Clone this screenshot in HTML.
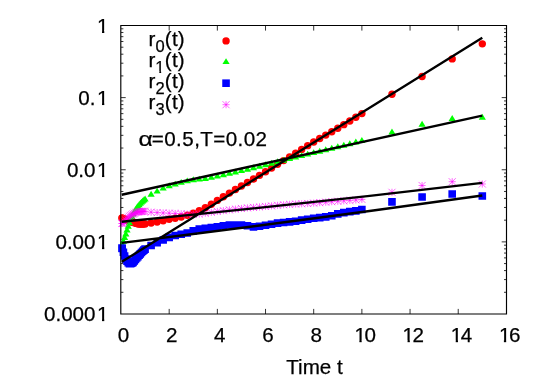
<!DOCTYPE html>
<html><head><meta charset="utf-8"><title>plot</title>
<style>html,body{margin:0;padding:0;background:#fff;overflow:hidden}svg{display:block;will-change:transform}</style>
</head><body>
<svg width="545" height="382" viewBox="0 0 545 382">
<rect x="0" y="0" width="545" height="382" fill="#fff"/>
<path d="M121 75.91h2.4M506.4 75.91h-2.4M121 63.21h2.4M506.4 63.21h-2.4M121 54.2h2.4M506.4 54.2h-2.4M121 47.21h2.4M506.4 47.21h-2.4M121 41.5h2.4M506.4 41.5h-2.4M121 36.67h2.4M506.4 36.67h-2.4M121 32.49h2.4M506.4 32.49h-2.4M121 28.8h2.4M506.4 28.8h-2.4M121 97.62h4.7M506.4 97.62h-4.7M121 148.04h2.4M506.4 148.04h-2.4M121 135.34h2.4M506.4 135.34h-2.4M121 126.33h2.4M506.4 126.33h-2.4M121 119.34h2.4M506.4 119.34h-2.4M121 113.63h2.4M506.4 113.63h-2.4M121 108.8h2.4M506.4 108.8h-2.4M121 104.61h2.4M506.4 104.61h-2.4M121 100.93h2.4M506.4 100.93h-2.4M121 169.75h4.7M506.4 169.75h-4.7M121 220.16h2.4M506.4 220.16h-2.4M121 207.46h2.4M506.4 207.46h-2.4M121 198.45h2.4M506.4 198.45h-2.4M121 191.46h2.4M506.4 191.46h-2.4M121 185.75h2.4M506.4 185.75h-2.4M121 180.92h2.4M506.4 180.92h-2.4M121 176.74h2.4M506.4 176.74h-2.4M121 173.05h2.4M506.4 173.05h-2.4M121 241.88h4.7M506.4 241.88h-4.7M121 292.29h2.4M506.4 292.29h-2.4M121 279.59h2.4M506.4 279.59h-2.4M121 270.58h2.4M506.4 270.58h-2.4M121 263.59h2.4M506.4 263.59h-2.4M121 257.88h2.4M506.4 257.88h-2.4M121 253.05h2.4M506.4 253.05h-2.4M121 248.86h2.4M506.4 248.86h-2.4M121 245.18h2.4M506.4 245.18h-2.4M169.18 314v-5.1M169.18 25.5v5.1M217.35 314v-5.1M217.35 25.5v5.1M265.52 314v-5.1M265.52 25.5v5.1M313.7 314v-5.1M313.7 25.5v5.1M361.88 314v-5.1M361.88 25.5v5.1M410.05 314v-5.1M410.05 25.5v5.1M458.22 314v-5.1M458.22 25.5v5.1" fill="none" stroke="#000" stroke-width="0.8"/>
<g fill="#f00"><circle cx="121.96" cy="217.97" r="3.7"/><circle cx="122.2" cy="218.08" r="3.7"/><circle cx="123.41" cy="218.64" r="3.7"/><circle cx="124.61" cy="219.18" r="3.7"/><circle cx="125.82" cy="219.7" r="3.7"/><circle cx="127.02" cy="220.2" r="3.7"/><circle cx="128.23" cy="220.69" r="3.7"/><circle cx="129.43" cy="221.16" r="3.7"/><circle cx="130.63" cy="221.62" r="3.7"/><circle cx="131.84" cy="222.03" r="3.7"/><circle cx="133.04" cy="222.4" r="3.7"/><circle cx="134.25" cy="222.75" r="3.7"/><circle cx="135.45" cy="223.11" r="3.7"/><circle cx="136.66" cy="223.45" r="3.7"/><circle cx="137.86" cy="223.73" r="3.7"/><circle cx="139.07" cy="223.93" r="3.7"/><circle cx="140.27" cy="224" r="3.7"/><circle cx="141.47" cy="223.99" r="3.7"/><circle cx="142.68" cy="223.97" r="3.7"/><circle cx="143.88" cy="223.94" r="3.7"/><circle cx="145.09" cy="223.9" r="3.7"/><circle cx="151.11" cy="223" r="3.7"/><circle cx="157.13" cy="222" r="3.7"/><circle cx="163.15" cy="220.8" r="3.7"/><circle cx="169.18" cy="219.3" r="3.7"/><circle cx="175.2" cy="218.18" r="3.7"/><circle cx="181.22" cy="217" r="3.7"/><circle cx="187.24" cy="215.3" r="3.7"/><circle cx="193.26" cy="213.2" r="3.7"/><circle cx="199.28" cy="210.67" r="3.7"/><circle cx="205.31" cy="207.7" r="3.7"/><circle cx="211.33" cy="204.18" r="3.7"/><circle cx="217.35" cy="200.4" r="3.7"/><circle cx="223.37" cy="196.74" r="3.7"/><circle cx="229.39" cy="193.1" r="3.7"/><circle cx="235.42" cy="189.55" r="3.7"/><circle cx="241.44" cy="186.03" r="3.7"/><circle cx="247.46" cy="182.5" r="3.7"/><circle cx="253.48" cy="178.93" r="3.7"/><circle cx="259.5" cy="175.33" r="3.7"/><circle cx="265.52" cy="171.7" r="3.7"/><circle cx="271.55" cy="168.03" r="3.7"/><circle cx="277.57" cy="164.33" r="3.7"/><circle cx="283.59" cy="160.62" r="3.7"/><circle cx="289.61" cy="156.9" r="3.7"/><circle cx="295.63" cy="153.16" r="3.7"/><circle cx="301.66" cy="149.38" r="3.7"/><circle cx="307.68" cy="145.65" r="3.7"/><circle cx="313.7" cy="142" r="3.7"/><circle cx="319.72" cy="138.49" r="3.7"/><circle cx="325.74" cy="135.08" r="3.7"/><circle cx="331.77" cy="131.68" r="3.7"/><circle cx="337.79" cy="128.2" r="3.7"/><circle cx="343.81" cy="124.63" r="3.7"/><circle cx="349.83" cy="121" r="3.7"/><circle cx="355.85" cy="117.32" r="3.7"/><circle cx="361.88" cy="113.6" r="3.7"/><circle cx="391.98" cy="94.3" r="3.7"/><circle cx="422.09" cy="76.5" r="3.7"/><circle cx="452.2" cy="58.9" r="3.7"/><circle cx="482.31" cy="43.85" r="3.7"/></g>
<path fill="#0f0" d="M121.96 241.6l3.6 5.95h-7.2zM122.2 241.05l3.6 5.95h-7.2zM123.41 237.85l3.6 5.95h-7.2zM124.61 234.05l3.6 5.95h-7.2zM125.82 230.45l3.6 5.95h-7.2zM127.02 226.45l3.6 5.95h-7.2zM128.23 222.75l3.6 5.95h-7.2zM129.43 219.27l3.6 5.95h-7.2zM130.63 216.05l3.6 5.95h-7.2zM131.84 213.16l3.6 5.95h-7.2zM133.04 210.55l3.6 5.95h-7.2zM134.25 208.15l3.6 5.95h-7.2zM135.45 206.05l3.6 5.95h-7.2zM136.66 204.29l3.6 5.95h-7.2zM137.86 202.72l3.6 5.95h-7.2zM139.07 201.26l3.6 5.95h-7.2zM140.27 199.89l3.6 5.95h-7.2zM141.47 198.65l3.6 5.95h-7.2zM142.68 197.55l3.6 5.95h-7.2zM143.88 196.54l3.6 5.95h-7.2zM145.09 195.55l3.6 5.95h-7.2zM151.11 190.75l3.6 5.95h-7.2zM157.13 187.65l3.6 5.95h-7.2zM163.15 184.65l3.6 5.95h-7.2zM169.18 182.25l3.6 5.95h-7.2zM175.2 180.65l3.6 5.95h-7.2zM181.22 178.9l3.6 5.95h-7.2zM187.24 177.4l3.6 5.95h-7.2zM193.26 176.35l3.6 5.95h-7.2zM199.28 175.66l3.6 5.95h-7.2zM205.31 174.96l3.6 5.95h-7.2zM211.33 173.92l3.6 5.95h-7.2zM217.35 172.61l3.6 5.95h-7.2zM223.37 171.2l3.6 5.95h-7.2zM229.39 169.81l3.6 5.95h-7.2zM235.42 168.48l3.6 5.95h-7.2zM241.44 167.14l3.6 5.95h-7.2zM247.46 165.77l3.6 5.95h-7.2zM253.48 164.36l3.6 5.95h-7.2zM259.5 162.87l3.6 5.95h-7.2zM265.52 161.32l3.6 5.95h-7.2zM271.55 159.75l3.6 5.95h-7.2zM277.57 158.2l3.6 5.95h-7.2zM283.59 156.68l3.6 5.95h-7.2zM289.61 155.16l3.6 5.95h-7.2zM295.63 153.65l3.6 5.95h-7.2zM301.66 152.15l3.6 5.95h-7.2zM307.68 150.65l3.6 5.95h-7.2zM313.7 149.16l3.6 5.95h-7.2zM319.72 147.69l3.6 5.95h-7.2zM325.74 146.23l3.6 5.95h-7.2zM331.77 144.75l3.6 5.95h-7.2zM337.79 143.24l3.6 5.95h-7.2zM343.81 141.72l3.6 5.95h-7.2zM349.83 140.19l3.6 5.95h-7.2zM355.85 138.62l3.6 5.95h-7.2zM361.88 137.02l3.6 5.95h-7.2zM391.98 128.45l3.6 5.95h-7.2zM422.09 120.85l3.6 5.95h-7.2zM452.2 114.95l3.6 5.95h-7.2zM482.31 113.75l3.6 5.95h-7.2z"/>
<path fill="#00f" d="M118.16 244.3h7.6v7.6h-7.6zM118.4 244.65h7.6v7.6h-7.6zM119.61 248.4h7.6v7.6h-7.6zM120.81 252.13h7.6v7.6h-7.6zM122.02 255.2h7.6v7.6h-7.6zM123.22 257.5h7.6v7.6h-7.6zM124.43 259h7.6v7.6h-7.6zM125.63 259.81h7.6v7.6h-7.6zM126.83 259.93h7.6v7.6h-7.6zM128.04 259.4h7.6v7.6h-7.6zM129.24 258.54h7.6v7.6h-7.6zM130.45 257.27h7.6v7.6h-7.6zM131.65 255.76h7.6v7.6h-7.6zM132.86 254.21h7.6v7.6h-7.6zM134.06 252.8h7.6v7.6h-7.6zM135.27 251.48h7.6v7.6h-7.6zM136.47 250.12h7.6v7.6h-7.6zM137.67 248.77h7.6v7.6h-7.6zM138.88 247.48h7.6v7.6h-7.6zM140.08 246.31h7.6v7.6h-7.6zM141.29 245.3h7.6v7.6h-7.6zM147.31 241.7h7.6v7.6h-7.6zM153.33 238.9h7.6v7.6h-7.6zM159.35 236.2h7.6v7.6h-7.6zM165.38 233.6h7.6v7.6h-7.6zM171.4 231.7h7.6v7.6h-7.6zM177.42 230.4h7.6v7.6h-7.6zM183.44 229.25h7.6v7.6h-7.6zM189.46 227.05h7.6v7.6h-7.6zM195.48 225.2h7.6v7.6h-7.6zM201.51 224.5h7.6v7.6h-7.6zM207.53 223.75h7.6v7.6h-7.6zM213.55 223h7.6v7.6h-7.6zM219.57 221.95h7.6v7.6h-7.6zM225.59 221.2h7.6v7.6h-7.6zM231.62 221.2h7.6v7.6h-7.6zM237.64 221.2h7.6v7.6h-7.6zM243.66 221.95h7.6v7.6h-7.6zM249.68 223.05h7.6v7.6h-7.6zM255.7 222.5h7.6v7.6h-7.6zM261.72 221.4h7.6v7.6h-7.6zM267.75 220.4h7.6v7.6h-7.6zM273.77 219.35h7.6v7.6h-7.6zM279.79 218.7h7.6v7.6h-7.6zM285.81 218.1h7.6v7.6h-7.6zM291.83 217.5h7.6v7.6h-7.6zM297.86 216.35h7.6v7.6h-7.6zM303.88 215.4h7.6v7.6h-7.6zM309.9 214.5h7.6v7.6h-7.6zM315.92 213.8h7.6v7.6h-7.6zM321.94 213.05h7.6v7.6h-7.6zM327.97 211.9h7.6v7.6h-7.6zM333.99 210.05h7.6v7.6h-7.6zM340.01 208.8h7.6v7.6h-7.6zM346.03 207.8h7.6v7.6h-7.6zM352.05 207.05h7.6v7.6h-7.6zM358.07 205.7h7.6v7.6h-7.6zM388.18 198.1h7.6v7.6h-7.6zM418.29 193.2h7.6v7.6h-7.6zM448.4 190.2h7.6v7.6h-7.6zM478.51 192.2h7.6v7.6h-7.6z"/>
<path fill="none" stroke="#f0f" stroke-width="0.6" d="M118.41 223.46h7.1M121.96 219.91v7.1M118.41 219.91l7.1 7.1M118.41 227.01l7.1 -7.1M118.65 223.5h7.1M122.2 219.95v7.1M118.65 219.95l7.1 7.1M118.65 227.05l7.1 -7.1M119.86 223h7.1M123.41 219.45v7.1M119.86 219.45l7.1 7.1M119.86 226.55l7.1 -7.1M121.06 221.8h7.1M124.61 218.25v7.1M121.06 218.25l7.1 7.1M121.06 225.35l7.1 -7.1M122.27 220.2h7.1M125.82 216.65v7.1M122.27 216.65l7.1 7.1M122.27 223.75l7.1 -7.1M123.47 218.63h7.1M127.02 215.08v7.1M123.47 215.08l7.1 7.1M123.47 222.18l7.1 -7.1M124.68 217.35h7.1M128.23 213.8v7.1M124.68 213.8l7.1 7.1M124.68 220.9l7.1 -7.1M125.88 216.3h7.1M129.43 212.75v7.1M125.88 212.75l7.1 7.1M125.88 219.85l7.1 -7.1M127.08 215.42h7.1M130.63 211.87v7.1M127.08 211.87l7.1 7.1M127.08 218.97l7.1 -7.1M128.29 214.65h7.1M131.84 211.1v7.1M128.29 211.1l7.1 7.1M128.29 218.2l7.1 -7.1M129.49 213.99h7.1M133.04 210.44v7.1M129.49 210.44l7.1 7.1M129.49 217.54l7.1 -7.1M130.7 213.35h7.1M134.25 209.8v7.1M130.7 209.8l7.1 7.1M130.7 216.9l7.1 -7.1M131.9 212.77h7.1M135.45 209.22v7.1M131.9 209.22l7.1 7.1M131.9 216.32l7.1 -7.1M133.11 212.3h7.1M136.66 208.75v7.1M133.11 208.75l7.1 7.1M133.11 215.85l7.1 -7.1M134.31 212h7.1M137.86 208.45v7.1M134.31 208.45l7.1 7.1M134.31 215.55l7.1 -7.1M135.52 211.8h7.1M139.07 208.25v7.1M135.52 208.25l7.1 7.1M135.52 215.35l7.1 -7.1M136.72 211.62h7.1M140.27 208.07v7.1M136.72 208.07l7.1 7.1M136.72 215.17l7.1 -7.1M137.92 211.49h7.1M141.47 207.94v7.1M137.92 207.94l7.1 7.1M137.92 215.04l7.1 -7.1M139.13 211.39h7.1M142.68 207.84v7.1M139.13 207.84l7.1 7.1M139.13 214.94l7.1 -7.1M140.33 211.33h7.1M143.88 207.78v7.1M140.33 207.78l7.1 7.1M140.33 214.88l7.1 -7.1M141.54 211.3h7.1M145.09 207.75v7.1M141.54 207.75l7.1 7.1M141.54 214.85l7.1 -7.1M147.56 212.2h7.1M151.11 208.65v7.1M147.56 208.65l7.1 7.1M147.56 215.75l7.1 -7.1M153.58 212.6h7.1M157.13 209.05v7.1M153.58 209.05l7.1 7.1M153.58 216.15l7.1 -7.1M159.6 212.91h7.1M163.15 209.36v7.1M159.6 209.36l7.1 7.1M159.6 216.46l7.1 -7.1M165.62 213.2h7.1M169.18 209.65v7.1M165.62 209.65l7.1 7.1M165.62 216.75l7.1 -7.1M171.65 213.51h7.1M175.2 209.96v7.1M171.65 209.96l7.1 7.1M171.65 217.06l7.1 -7.1M177.67 213.8h7.1M181.22 210.25v7.1M177.67 210.25l7.1 7.1M177.67 217.35l7.1 -7.1M183.69 214.12h7.1M187.24 210.57v7.1M183.69 210.57l7.1 7.1M183.69 217.67l7.1 -7.1M189.71 214.3h7.1M193.26 210.75v7.1M189.71 210.75l7.1 7.1M189.71 217.85l7.1 -7.1M195.73 213.99h7.1M199.28 210.44v7.1M195.73 210.44l7.1 7.1M195.73 217.54l7.1 -7.1M201.76 213.23h7.1M205.31 209.68v7.1M201.76 209.68l7.1 7.1M201.76 216.78l7.1 -7.1M207.78 212.29h7.1M211.33 208.74v7.1M207.78 208.74l7.1 7.1M207.78 215.84l7.1 -7.1M213.8 211.43h7.1M217.35 207.88v7.1M213.8 207.88l7.1 7.1M213.8 214.98l7.1 -7.1M219.82 210.66h7.1M223.37 207.11v7.1M219.82 207.11l7.1 7.1M219.82 214.21l7.1 -7.1M225.84 209.86h7.1M229.39 206.31v7.1M225.84 206.31l7.1 7.1M225.84 213.41l7.1 -7.1M231.87 209.1h7.1M235.42 205.55v7.1M231.87 205.55l7.1 7.1M231.87 212.65l7.1 -7.1M237.89 208.43h7.1M241.44 204.88v7.1M237.89 204.88l7.1 7.1M237.89 211.98l7.1 -7.1M243.91 207.88h7.1M247.46 204.33v7.1M243.91 204.33l7.1 7.1M243.91 211.43l7.1 -7.1M249.93 207.39h7.1M253.48 203.84v7.1M249.93 203.84l7.1 7.1M249.93 210.94l7.1 -7.1M255.95 206.93h7.1M259.5 203.38v7.1M255.95 203.38l7.1 7.1M255.95 210.48l7.1 -7.1M261.97 206.44h7.1M265.52 202.89v7.1M261.97 202.89l7.1 7.1M261.97 209.99l7.1 -7.1M268 205.9h7.1M271.55 202.35v7.1M268 202.35l7.1 7.1M268 209.45l7.1 -7.1M274.02 205.32h7.1M277.57 201.77v7.1M274.02 201.77l7.1 7.1M274.02 208.87l7.1 -7.1M280.04 204.79h7.1M283.59 201.24v7.1M280.04 201.24l7.1 7.1M280.04 208.34l7.1 -7.1M286.06 204.35h7.1M289.61 200.8v7.1M286.06 200.8l7.1 7.1M286.06 207.9l7.1 -7.1M292.08 204.03h7.1M295.63 200.48v7.1M292.08 200.48l7.1 7.1M292.08 207.58l7.1 -7.1M298.11 203.77h7.1M301.66 200.22v7.1M298.11 200.22l7.1 7.1M298.11 207.32l7.1 -7.1M304.13 203.49h7.1M307.68 199.94v7.1M304.13 199.94l7.1 7.1M304.13 207.04l7.1 -7.1M310.15 203.11h7.1M313.7 199.56v7.1M310.15 199.56l7.1 7.1M310.15 206.66l7.1 -7.1M316.17 202.64h7.1M319.72 199.09v7.1M316.17 199.09l7.1 7.1M316.17 206.19l7.1 -7.1M322.19 202.14h7.1M325.74 198.59v7.1M322.19 198.59l7.1 7.1M322.19 205.69l7.1 -7.1M328.22 201.67h7.1M331.77 198.12v7.1M328.22 198.12l7.1 7.1M328.22 205.22l7.1 -7.1M334.24 201.23h7.1M337.79 197.68v7.1M334.24 197.68l7.1 7.1M334.24 204.78l7.1 -7.1M340.26 200.79h7.1M343.81 197.24v7.1M340.26 197.24l7.1 7.1M340.26 204.34l7.1 -7.1M346.28 200.35h7.1M349.83 196.8v7.1M346.28 196.8l7.1 7.1M346.28 203.9l7.1 -7.1M352.3 199.92h7.1M355.85 196.37v7.1M352.3 196.37l7.1 7.1M352.3 203.47l7.1 -7.1M358.32 199.37h7.1M361.88 195.82v7.1M358.32 195.82l7.1 7.1M358.32 202.92l7.1 -7.1M388.43 192.3h7.1M391.98 188.75v7.1M388.43 188.75l7.1 7.1M388.43 195.85l7.1 -7.1M418.54 185.5h7.1M422.09 181.95v7.1M418.54 181.95l7.1 7.1M418.54 189.05l7.1 -7.1M448.65 181.7h7.1M452.2 178.15v7.1M448.65 178.15l7.1 7.1M448.65 185.25l7.1 -7.1M478.76 184h7.1M482.31 180.45v7.1M478.76 180.45l7.1 7.1M478.76 187.55l7.1 -7.1"/>
<path fill="none" stroke="#000" stroke-width="2.35" d="M121.72 261.85L482.31 37.8M121.72 194.74Q302.02 155.97 482.31 115.6M121.72 242.91Q302.02 220.8 482.31 195.5M121.72 221.72Q302.02 204.26 482.31 182.8"/>
<path fill="none" stroke="#000" stroke-width="1.15" stroke-linecap="square" d="M120.8 25.5V314M506.5 25.5V314M120.8 25.5H506.5M120.8 314H506.5"/>
<circle cx="226.05" cy="40.9" r="3.7" fill="#f00"/>
<path fill="#0f0" d="M226.05 58.15l3.6 5.95h-7.2z"/>
<path fill="#00f" d="M222.25 79.4h7.6v7.6h-7.6z"/>
<path fill="none" stroke="#f0f" stroke-width="0.6" d="M222.5 104.7h7.1M226.05 101.15v7.1M222.5 101.15l7.1 7.1M222.5 108.25l7.1 -7.1"/>
<defs><clipPath id="k0"><path d="M-2 -18H14V-2.6H7.25V0.5H4.95V-2.6H-2Z"/></clipPath><clipPath id="k1"><path d="M-2 -18H14V-1.72H7.25V0.5H4.95V-1.72H-2Z"/></clipPath><clipPath id="k2"><path d="M-2 -18H14V-1.85H7.25V0.5H4.95V-1.85H-2Z"/></clipPath><clipPath id="k3"><path d="M-2 -18H14V-1.97H7.25V0.5H4.95V-1.97H-2Z"/></clipPath><clipPath id="k4"><path d="M-2 -18H14V-2.1H7.25V0.5H4.95V-2.1H-2Z"/></clipPath><clipPath id="k5"><path d="M-2 -18H14V-2.3H7.25V0.5H4.95V-2.3H-2Z"/></clipPath><clipPath id="k6"><path d="M-2 -18H14V-2.3H7.25V0.5H4.95V-2.3H-2Z"/></clipPath><clipPath id="k7"><path d="M-2 -18H14V-2.3H7.25V0.5H4.95V-2.3H-2Z"/></clipPath><clipPath id="k8"><path d="M-2 -18H14V-2.3H7.25V0.5H4.95V-2.3H-2Z"/></clipPath><clipPath id="k9"><path d="M-2 -18H14V-2.12H7.25V0.5H4.95V-2.12H-2Z"/></clipPath></defs>
<g font-family="'Liberation Sans', sans-serif" font-size="20.6" fill="#000" stroke="#000" stroke-width="0.25">
<text transform="translate(97.04 32.6)" clip-path="url(#k0)">1</text>
<text x="78.36" y="104.72">0.</text><text transform="translate(97.04 104.72)" clip-path="url(#k1)">1</text>
<text x="66.9" y="176.85">0.0</text><text transform="translate(97.04 176.85)" clip-path="url(#k2)">1</text>
<text x="55.45" y="248.97">0.00</text><text transform="translate(97.04 248.97)" clip-path="url(#k3)">1</text>
<text x="43.99" y="321.1">0.000</text><text transform="translate(97.04 321.1)" clip-path="url(#k4)">1</text>
<text x="117.77" y="342.3">0</text>
<text x="165.95" y="342.3">2</text>
<text x="214.12" y="342.3">4</text>
<text x="262.3" y="342.3">6</text>
<text x="310.47" y="342.3">8</text>
<text transform="translate(354.42 342.3)" clip-path="url(#k5)">1</text><text x="364.38" y="342.3">0</text>
<text transform="translate(402.59 342.3)" clip-path="url(#k6)">1</text><text x="412.55" y="342.3">2</text>
<text transform="translate(450.77 342.3)" clip-path="url(#k7)">1</text><text x="460.72" y="342.3">4</text>
<text transform="translate(498.94 342.3)" clip-path="url(#k8)">1</text><text x="508.9" y="342.3">6</text>
<text x="314.5" y="374.1" text-anchor="middle">Time t</text>
<text x="148.4" y="45.8" letter-spacing="0.2">r<tspan font-size="16.5" dy="6">0</tspan><tspan dy="-6">(t)</tspan></text>
<text x="148.4" y="66.7">r</text>
<text transform="translate(155.36 72.7) scale(0.8)" clip-path="url(#k9)">1</text>
<text x="164.84" y="66.7" letter-spacing="0.2">(t)</text>
<text x="148.4" y="87.6" letter-spacing="0.2">r<tspan font-size="16.5" dy="6">2</tspan><tspan dy="-6">(t)</tspan></text>
<text x="148.4" y="108.5" letter-spacing="0.2">r<tspan font-size="16.5" dy="6">3</tspan><tspan dy="-6">(t)</tspan></text>
<text transform="translate(138.6 145.8) scale(1.2 1)">α</text>
<text x="151.8" y="145.8" letter-spacing="0.42">=0.5,T=0.02</text>
</g>
</svg>
</body></html>
